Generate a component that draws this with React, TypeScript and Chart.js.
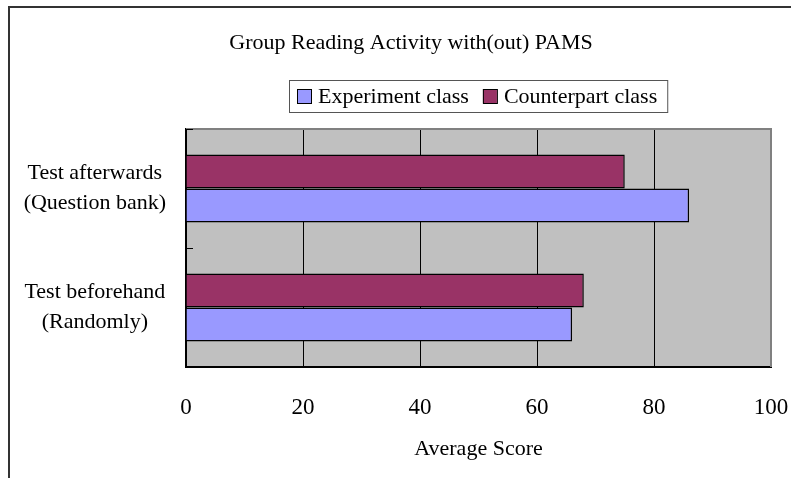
import React, { useEffect, useRef } from "react";
import { Chart, registerables } from "chart.js";

Chart.register(...registerables);

// ---- data ----
const categories: string[][] = [
  ["Test afterwards", "(Question bank)"],
  ["Test beforehand", "(Randomly)"],
];
const seriesNames = ["Experiment class", "Counterpart class"];
const experimentScores = [86, 66];
const counterpartScores = [75, 68];
const xTicks = [0, 20, 40, 60, 80, 100];
const chartTitle = "Group Reading Activity with(out) PAMS";
const xAxisTitle = "Average Score";

const seriesColors = ["#9999FF", "#993366"];
const FONT = "'Liberation Serif', 'DejaVu Serif', serif";

const decorPlugin = {
  id: "decor",
  beforeDraw(chart: any) {
    const { ctx, chartArea: a } = chart;
    ctx.save();
    ctx.fillStyle = "#ffffff";
    ctx.fillRect(0, 0, chart.width, chart.height);
    ctx.fillStyle = "#C0C0C0";
    ctx.fillRect(a.left, a.top, a.right - a.left, a.bottom - a.top);
    // outer frame (left and top edges visible)
    ctx.strokeStyle = "#333333";
    ctx.lineWidth = 2;
    ctx.beginPath();
    ctx.moveTo(9, chart.height);
    ctx.lineTo(9, 7);
    ctx.lineTo(chart.width, 7);
    ctx.stroke();
    ctx.restore();
  },
  afterDraw(chart: any) {
    const { ctx, chartArea: a } = chart;
    ctx.save();
    // top and right plot border (gray)
    ctx.strokeStyle = "#808080";
    ctx.lineWidth = 2;
    ctx.beginPath();
    ctx.moveTo(a.left, a.top);
    ctx.lineTo(a.right, a.top);
    ctx.lineTo(a.right, a.bottom);
    ctx.stroke();
    // inward tick marks on category axis boundaries
    const ys = chart.scales.y;
    ctx.strokeStyle = "#000000";
    ctx.lineWidth = 1;
    for (let i = 0; i <= categories.length; i++) {
      const p = Math.round(ys.getPixelForValue(i - 0.5)) + 0.5;
      ctx.beginPath();
      ctx.moveTo(a.left, p);
      ctx.lineTo(a.left + 7, p);
      ctx.stroke();
    }
    // title
    ctx.fillStyle = "#000000";
    ctx.font = `22px ${FONT}`;
    ctx.textAlign = "center";
    ctx.textBaseline = "middle";
    ctx.fillText(chartTitle, 411, 43);

    // legend
    const ds = chart.data.datasets;
    ctx.font = `22px ${FONT}`;
    const box = 14;
    const gap = 7;
    const itemGap = 14;
    const padL = 8;
    const padR = 10;
    const widths = ds.map((d: any) => ctx.measureText(d.label).width);
    let total = padL + padR;
    widths.forEach((w: number, i: number) => {
      total += box + gap + w + (i < widths.length - 1 ? itemGap : 0);
    });
    const cx = (a.left + a.right) / 2;
    const lx = Math.round(cx - total / 2);
    const ly = 80;
    const lh = 32;
    ctx.strokeStyle = "#555555";
    ctx.lineWidth = 1;
    ctx.strokeRect(lx + 0.5, ly + 0.5, total, lh);
    let x = lx + padL;
    ds.forEach((d: any, i: number) => {
      const by = ly + Math.round((lh - box) / 2);
      ctx.fillStyle = d.backgroundColor;
      ctx.fillRect(x, by, box, box);
      ctx.strokeStyle = "#000000";
      ctx.strokeRect(x + 0.5, by + 0.5, box, box);
      x += box + gap;
      ctx.fillStyle = "#000000";
      ctx.textAlign = "left";
      ctx.textBaseline = "middle";
      ctx.fillText(d.label, x, ly + lh / 2 + 1);
      x += widths[i] + itemGap;
    });
    ctx.restore();
  },
};

export default function App() {
  const ref = useRef<HTMLCanvasElement | null>(null);

  useEffect(() => {
    if (!ref.current) return;
    const chart = new Chart(ref.current, {
      type: "bar",
      data: {
        labels: categories as any,
        datasets: [
          {
            label: seriesNames[0],
            data: experimentScores,
            backgroundColor: seriesColors[0],
            borderColor: "#000000",
            borderWidth: 1.5,
            order: 1,
          },
          {
            label: seriesNames[1],
            data: counterpartScores,
            backgroundColor: seriesColors[1],
            borderColor: "#000000",
            borderWidth: 1.5,
            order: 0,
          },
        ],
      },
      options: {
        indexAxis: "y",
        responsive: false,
        animation: false,
        events: [],
        layout: { padding: { top: 129, right: 20, left: 0, bottom: 0 } },
        datasets: {
          bar: { categoryPercentage: 0.57, barPercentage: 1.0 },
        },
        plugins: {
          legend: { display: false },
          title: { display: false },
          tooltip: { enabled: false },
        },
        scales: {
          x: {
            min: 0,
            max: 100,
            afterBuildTicks: (s: any) => {
              s.ticks = xTicks.map((v) => ({ value: v }));
            },
            afterFit: (s: any) => {
              s.height = 111;
              s.paddingLeft = 0;
              s.paddingRight = 0;
            },
            ticks: {
              padding: 27,
              color: "#000000",
              font: { family: FONT, size: 23 },
            },
            grid: {
              drawTicks: false,
              lineWidth: 1,
              color: (c: any) =>
                c.tick && c.tick.value === 100
                  ? "#808080"
                  : c.tick && c.tick.value === 0
                  ? "rgba(0,0,0,0)"
                  : "#000000",
            },
            border: { display: true, color: "#000000", width: 2 },
            title: {
              display: true,
              text: xAxisTitle,
              color: "#000000",
              font: { family: FONT, size: 22 },
              padding: { top: 0, bottom: 16 },
            },
          },
          y: {
            afterFit: (s: any) => {
              s.width = 186;
              s.paddingTop = 0;
              s.paddingBottom = 0;
            },
            ticks: {
              crossAlign: "center",
              padding: 20,
              color: "#000000",
              font: { family: FONT, size: 22, lineHeight: 30 / 22 },
            },
            grid: { display: false, drawTicks: false },
            border: { display: true, color: "#000000", width: 2 },
          },
        },
      },
      plugins: [decorPlugin],
    });
    return () => chart.destroy();
  }, []);

  return (
    <div style={{ position: "absolute", left: 0, top: 0, width: 791, height: 478 }}>
      <canvas ref={ref} width={791} height={478} style={{ width: 791, height: 478, display: "block" }} />
    </div>
  );
}
